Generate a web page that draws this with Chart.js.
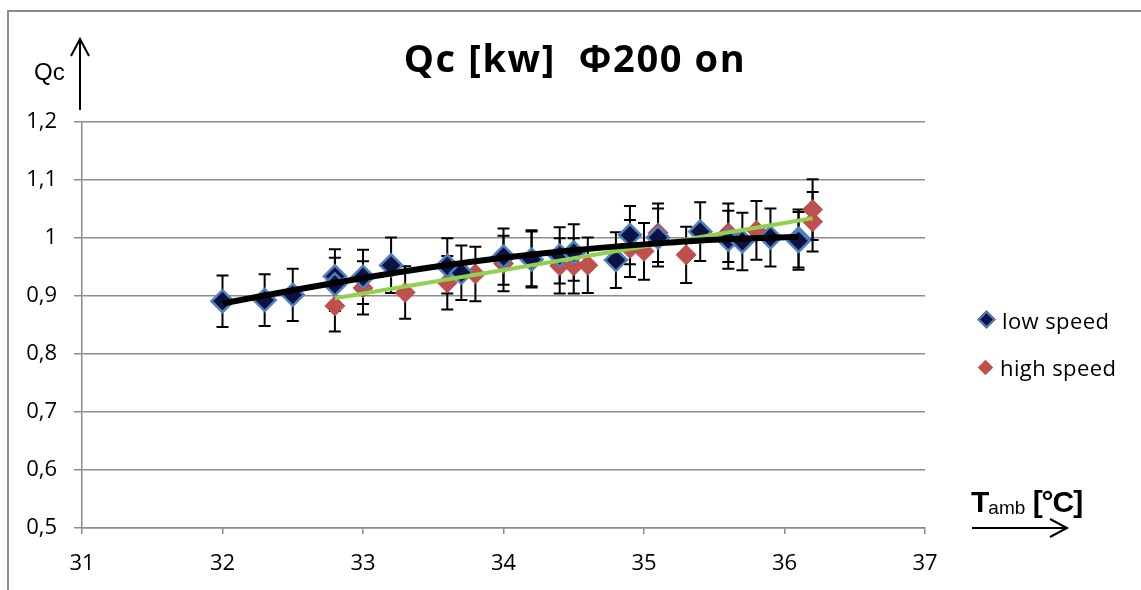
<!DOCTYPE html>
<html>
<head>
<meta charset="utf-8">
<script src="https://cdn.jsdelivr.net/npm/chart.js@4/dist/chart.umd.min.js"></script>
<style>
  html, body { margin: 0; padding: 0; background: #fff; }
  #wrap { position: relative; width: 1141px; height: 590px; overflow: hidden; }
  #frame { position: absolute; left: 7px; top: 10px; width: 1200px; height: 700px;
           border-left: 2px solid #8c8c8c; border-top: 2px solid #8c8c8c; }
  #title { position: absolute; left: 0; width: 1150px; top: 32px; text-align: center;
           font: bold 38px "Open Sans", sans-serif; color: #000; line-height: 1.362; letter-spacing: 1.6px; }
  #qc { position: absolute; left: 34px; top: 58px; font: 24px "Liberation Sans", Arial, sans-serif; }
  #tamb { position: absolute; left: 971px; top: 485px; font: bold 30px "Liberation Sans", Arial, sans-serif; letter-spacing: -1px; }
  #tamb sub { font-size: 19px; font-weight: normal; vertical-align: -2px; letter-spacing: 0; }
  .leg { position: absolute; left: 980px; font: 22px "Open Sans", sans-serif; color: #000; line-height: 28px; letter-spacing: 0.4px; }
  .leg i { display: inline-block; width: 11px; height: 11px; transform: rotate(45deg);
           margin-right: 9px; vertical-align: 3px; }
  svg { position: absolute; left: 0; top: 0; }
</style>
</head>
<body>
<div id="wrap">
  <div id="frame"></div>
  <canvas id="myChart" width="1141" height="590"></canvas>
  <div id="title">Qc [kw]&nbsp; Φ200 on</div>
  <div id="qc">Qc</div>
  <div id="tamb">T<sub>amb</sub> [°C]</div>
  <div class="leg" style="top:306px"><i style="background:#0d1245;border:2px solid #4f81bd;width:9px;height:9px"></i>low speed</div>
  <div class="leg" style="top:353px"><i style="background:#c0504d"></i>high speed</div>
  <svg width="1141" height="590">
    <g stroke="#000" stroke-width="2" fill="none">
      <line x1="80" y1="110" x2="80" y2="39"/>
      <polyline points="71,56 80,39 89,56"/>
      <line x1="972" y1="528" x2="1067" y2="528"/>
      <polyline points="1050,519 1067,528 1050,537"/>
    </g>
  </svg>
</div>
<script>
// low speed measurements
var lowX = [32, 32.3, 32.5, 32.8, 32.8, 33.0, 33.2, 33.6, 33.7, 34.0, 34.2, 34.4, 34.5, 34.8, 34.9, 35.1, 35.4, 35.6, 35.7, 35.9, 36.1, 36.1];
var lowY = [0.891, 0.893, 0.902, 0.934, 0.92, 0.933, 0.953, 0.952, 0.94, 0.968, 0.963, 0.97, 0.975, 0.962, 1.005, 1.001, 1.011, 0.997, 0.994, 1.001, 0.999, 0.995];

// high speed measurements
var highX = [32.8, 33.0, 33.3, 33.6, 33.8, 34.0, 34.2, 34.4, 34.5, 34.6, 34.9, 35.0, 35.1, 35.3, 35.6, 35.8, 36.2, 36.2];
var highY = [0.883, 0.914, 0.906, 0.923, 0.938, 0.956, 0.965, 0.952, 0.952, 0.953, 0.982, 0.977, 1.009, 0.971, 1.009, 1.013, 1.049, 1.028];

// trend lines
var lowTrendX = [32, 32.5, 33, 33.5, 34, 34.5, 35, 35.5, 36.1];
var lowTrendY = [0.887, 0.91, 0.931, 0.95, 0.966, 0.979, 0.989, 0.997, 1.002];
var highTrendX = [32.8, 36.2];
var highTrendY = [0.896, 1.034];

// error bars are 5% of the value
var errPct = 0.05;

// axis ticks
var xTicks = [31, 32, 33, 34, 35, 36, 37];
var yTicks = [0.5, 0.6, 0.7, 0.8, 0.9, 1.0, 1.1, 1.2];

function pts(xs, ys) {
    return xs.map(function (x, i) { return { x: x, y: ys[i] }; });
}

// draws error bars under the markers
var errorBars = {
    id: 'errorBars',
    beforeDatasetsDraw: function (chart) {
        var ctx = chart.ctx;
        var xs = chart.scales.x, ys = chart.scales.y;
        ctx.save();
        ctx.strokeStyle = '#000';
        ctx.lineWidth = 2;
        [[lowX, lowY], [highX, highY]].forEach(function (s) {
            s[0].forEach(function (x, i) {
                var v = s[1][i];
                var px = xs.getPixelForValue(x);
                var top = ys.getPixelForValue(v * (1 + errPct));
                var bot = ys.getPixelForValue(v * (1 - errPct));
                ctx.beginPath();
                ctx.moveTo(px, top); ctx.lineTo(px, bot);
                ctx.moveTo(px - 6, top); ctx.lineTo(px + 6, top);
                ctx.moveTo(px - 6, bot); ctx.lineTo(px + 6, bot);
                ctx.stroke();
            });
        });
        ctx.restore();
    }
};

var ctx = document.getElementById('myChart').getContext('2d');
var myChart = new Chart(ctx, {
    type: 'scatter',
    data: {
        datasets: [{
            label: 'low speed trend',
            type: 'line',
            data: pts(lowTrendX, lowTrendY),
            borderColor: '#000',
            borderWidth: 6,
            pointRadius: 0,
            cubicInterpolationMode: 'monotone',
            order: 0
        }, {
            label: 'high speed trend',
            type: 'line',
            data: pts(highTrendX, highTrendY),
            borderColor: '#92d050',
            borderWidth: 4,
            pointRadius: 0,
            order: 0
        }, {
            label: 'low speed',
            data: pts(lowX, lowY),
            pointStyle: 'rectRot',
            pointRadius: 11,
            backgroundColor: '#0d1245',
            borderColor: '#4f81bd',
            borderWidth: 2.5,
            order: 1
        }, {
            label: 'high speed',
            data: pts(highX, highY),
            pointStyle: 'rectRot',
            pointRadius: 10,
            backgroundColor: '#c0504d',
            borderColor: '#c0504d',
            borderWidth: 1,
            order: 2
        }]
    },
    options: {
        responsive: false,
        animation: false,
        layout: { padding: { left: 0, top: 122, right: 216, bottom: 0 } },
        plugins: {
            legend: { display: false },
            tooltip: { enabled: false }
        },
        scales: {
            x: {
                type: 'linear',
                min: 31, max: 37,
                afterBuildTicks: function (s) { s.ticks = xTicks.map(function (v) { return { value: v }; }); },
                afterFit: function (s) { s.height = 62; },
                grid: { display: true, drawOnChartArea: false, color: '#8c8c8c', lineWidth: 1.5, tickLength: 6 },
                border: { color: '#8c8c8c', width: 1.5 },
                ticks: { color: '#000', padding: 17, font: { family: "'Open Sans'", size: 22 } }
            },
            y: {
                min: 0.5, max: 1.2,
                afterBuildTicks: function (s) { s.ticks = yTicks.map(function (v) { return { value: v }; }); },
                afterFit: function (s) { s.width = 82; },
                grid: { color: '#8c8c8c', lineWidth: 1.5, tickLength: 8 },
                border: { color: '#8c8c8c', width: 1.5 },
                ticks: {
                    color: '#000', padding: 17,
                    font: { family: "'Open Sans'", size: 22 },
                    callback: function (v) { return String(Math.round(v * 10) / 10).replace('.', ','); }
                }
            }
        }
    },
    plugins: [errorBars]
});
</script>
</body>
</html>
